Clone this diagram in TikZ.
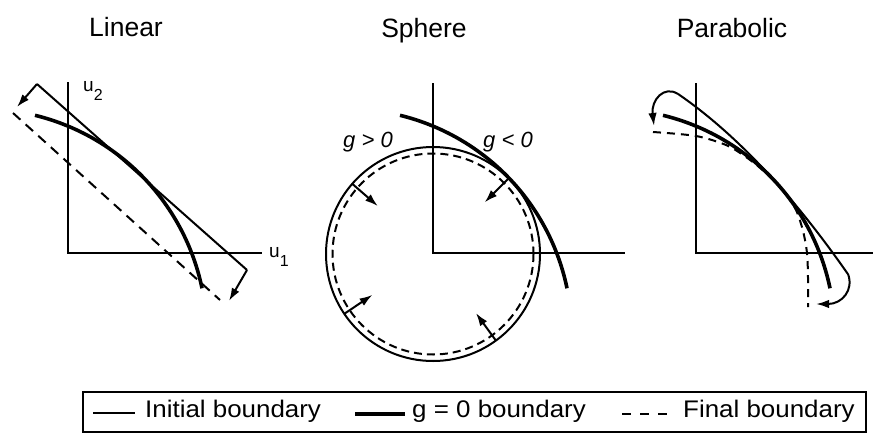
\documentclass[tikz,border=0pt]{standalone}
\usepackage{fontspec}
\setmainfont{Liberation Sans}
\newfontfamily\legfont[FakeStretch=1.08]{Liberation Sans}
\usetikzlibrary{arrows.meta,calc}
\tikzset{
  axisline/.style={line width=2pt},
  initb/.style={line width=2pt},
  gzero/.style={line width=3.6pt},
  finalb/.style={line width=2pt, dash pattern=on 10pt off 7pt},
  mover/.style={line width=2pt, -{Latex[length=13pt,width=8.5pt]}},
  ttl/.style={anchor=base, inner sep=0pt, font=\fontsize{26.5}{30}\selectfont},
  glab/.style={anchor=base, inner sep=0pt, font=\itshape\fontsize{22}{24}\selectfont},
  ulab/.style={anchor=base west, inner sep=0pt, font=\fontsize{19}{20}\selectfont},
  leg/.style={anchor=base west, inner sep=0pt, font=\legfont\fontsize{24}{26}\selectfont},
}
\newcommand\gzeroarc{\draw[gzero] plot[domain=11.7:76.3,samples=60] ({-86.3+225*cos(\x)},{80.9-225*sin(\x)});}
\begin{document}
\begin{tikzpicture}[x=1pt,y=-1pt]
\useasboundingbox (0,0) rectangle (875,434);

% titles
\node[ttl] (tlin) at (126,36) {Linear};
\node[ttl] (tsph) at (424,37) {Sphere};
\node[ttl] (tpar) at (732,37) {Parabolic};

% ---------- Linear ----------
\begin{scope}[shift={(68,253)}]
  \draw[axisline] (0,-171) -- (0,0) -- (194,0);
  \coordinate (la) at (-31,-169);
  \coordinate (lb) at (179,17);
  \coordinate (lat) at (-51,-146);
  \coordinate (lbt) at (161,48);
  \draw[initb] (la) -- (lb);
  \draw[finalb] (-55,-140) -- (152,47);
  \gzeroarc
  \draw[mover] (la) -- (lat);
  \draw[mover] (lb) -- (lbt);
\end{scope}
\node[ulab] (u2) at (83,91) {u\raisebox{-9pt}{\fontsize{16}{17}\selectfont 2}};
\node[ulab] (u1) at (269,257) {u\raisebox{-9pt}{\fontsize{16}{17}\selectfont 1}};

% ---------- Sphere ----------
\begin{scope}[shift={(433,253)}]
  \draw[axisline] (0,-170) -- (0,0) -- (192,0);
  \coordinate (sc) at (0,1);
  \draw[initb] (sc) circle[radius=107];
  \draw[line width=2pt, dash pattern=on 8pt off 5pt] (sc) circle[radius=100.5];
  \gzeroarc
  \foreach \a in {139,45,214,306}{
    \draw[mover] ($(sc)+(\a:107pt)$) -- ($(sc)+(\a:73pt)$);
  }
\end{scope}
\node[glab] (gpos) at (368,147) {g > 0};
\node[glab] (gneg) at (508,147) {g < 0};

% ---------- Parabolic ----------
\begin{scope}[shift={(696,253)}]
  \draw[axisline] (0,-170) -- (0,0) -- (177,0);
  \draw[initb] plot[domain=-18:152,samples=60] (\x,{-146+0.766*\x+0.0022*\x*\x});
  \gzeroarc
  \draw[finalb, dash pattern=on 8pt off 6pt] plot[smooth] coordinates {(-43,-121) (0,-117) (30,-108) (50,-96) (70,-80) (88,-61) (100,-43) (107,-22) (111,0) (112,25) (112,54)};
  \coordinate (pa) at (-18,-159);
  \coordinate (pat) at (-42,-127);
  \coordinate (pb) at (152,21);
  \coordinate (pbt) at (120,51);
  \draw[mover] (pa) .. controls (-32,-168) and (-45,-153) .. (pat);
  \draw[mover] (pb) .. controls (158,37) and (146,51) .. (pbt);
\end{scope}

% ---------- Legend ----------
\draw[line width=2pt] (83,392) rectangle (866,432);
\coordinate (k1a) at (93,413);
\coordinate (k1b) at (135,413);
\draw[initb] (k1a) -- (k1b);
\node[leg] (l1) at (145,417) {Initial boundary};
\coordinate (k2a) at (355,414);
\coordinate (k2b) at (405,414);
\draw[gzero] (k2a) -- (k2b);
\node[leg] (l2) at (412,417) {g = 0 boundary};
\coordinate (k3a) at (622,414);
\coordinate (k3b) at (667,414);
\draw[initb, dash pattern=on 9pt off 9pt] (k3a) -- (k3b);
\node[leg] (l3) at (683,417) {Final boundary};
\end{tikzpicture}
\end{document}
